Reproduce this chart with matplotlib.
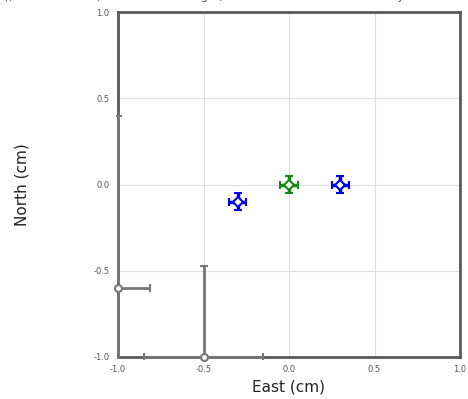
import matplotlib.pyplot as plt
from matplotlib.patches import Rectangle

# station offsets (cm) and their error bars
east = [-0.3, 0.0, 0.3]
north = [-0.1, 0.0, 0.0]
east_err = [0.05, 0.05, 0.05]
north_err = [0.05, 0.05, 0.05]
colors = ["#0000ee", "#138a13", "#0000ee"]

# grey reference marks
ref_east = [-1.0, -0.5]
ref_north = [-0.6, -1.0]
ref_east_err = [0.19, 0.35]
ref_north_err = [1.0, 0.53]

ticks = [-1.0, -0.5, 0.0, 0.5, 1.0]
tick_labels = ["-1.0", "-0.5", "0.0", "0.5", "1.0"]

fig = plt.figure(figsize=(4.68, 3.99), dpi=100)
ax = fig.add_axes([118/468, 1 - 357/399, 342/468, 345/399])

ax.set_xlim(-1, 1)
ax.set_ylim(-1, 1)
ax.set_xticks(ticks)
ax.set_yticks(ticks)
ax.set_xticklabels(tick_labels)
ax.set_yticklabels(tick_labels)
ax.tick_params(length=0, labelsize=6, labelcolor="#555555", pad=6)
ax.grid(color="#dddddd", lw=0.8)
ax.set_axisbelow(True)
for s in ax.spines.values():
    s.set_color("#5a5a5a")
    s.set_linewidth(2)

# clip box a bit larger than the plot area so bars lying on the frame show
clip = Rectangle((-0.006, -0.006), 1.012, 1.012, transform=ax.transAxes,
                 fill=False, visible=False)
ax.add_patch(clip)

eb = ax.errorbar(ref_east, ref_north, xerr=ref_east_err, yerr=ref_north_err,
                 fmt="o", color="#777777", ecolor="#777777", elinewidth=2,
                 capsize=3, capthick=1.5, ms=5, mfc="white", mec="#777777",
                 mew=1.5)
eb[0].set_clip_on(False)
eb[0].set_zorder(6)
for art in list(eb[1]) + list(eb[2]):
    art.set_clip_path(clip)
    art.set_zorder(5)

for x, y, xe, ye, c in zip(east, north, east_err, north_err, colors):
    ax.errorbar([x], [y], xerr=[xe], yerr=[ye], fmt="D", color=c, ecolor=c,
                elinewidth=2.5, capsize=3, capthick=2, ms=5, mfc="white",
                mec=c, mew=1.5, zorder=4)

ax.set_xlabel("East (cm)", fontsize=11, color="#222222", labelpad=4)
ax.set_ylabel("North (cm)", fontsize=11, color="#222222", labelpad=46)

fig.text(0.0, 1.0 + 3/399, "r), it is not scaled, of 1 x 1 cm in height, are the mean of all network adjustments.",
         fontsize=8, color="#444444", va="center", ha="left")

plt.savefig("out.png", dpi=100)
